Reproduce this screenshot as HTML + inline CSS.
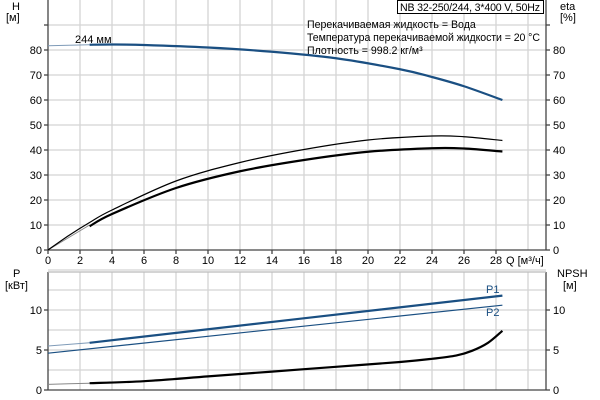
<!DOCTYPE html>
<html><head><meta charset="utf-8"><style>
body{margin:0;background:#fff}
svg{display:block;font-family:"Liberation Sans",sans-serif;font-size:11px}
.sm{font-size:10.6px}
</style></head><body>
<svg id="s" width="600" height="400" viewBox="0 0 600 400" xmlns="http://www.w3.org/2000/svg">
<g id="grid" stroke="#d4d4d4" stroke-width="1.3"></g>
<g id="ax" stroke="#444" stroke-width="1.3"></g>
<g id="cv" fill="none"></g>
<g id="tx" fill="#000"></g>
<rect x="397.5" y="0.5" width="146" height="13" fill="#fff" stroke="#000"/>
<text class="sm" x="400" y="11" textLength="140">NB 32-250/244, 3*400 V, 50Hz</text>
<text class="sm" x="307" y="28">Перекачиваемая жидкость = Вода</text>
<text class="sm" x="307" y="41" textLength="233">Температура перекачиваемой жидкости = 20 °C</text>
<text class="sm" x="307" y="54">Плотность = 998.2 кг/м³</text>
<text x="75" y="43">244 мм</text>
<text x="12" y="10">H</text><text x="6" y="21">[м]</text>
<text x="560" y="10">eta</text><text x="560" y="21">[%]</text>
<text x="506" y="264">Q [м³/ч]</text>
<text x="13" y="277">P</text><text x="5" y="289">[кВт]</text>
<text x="557" y="277">NPSH</text><text x="563" y="289">[м]</text>
<text x="486" y="293" fill="#1a4f82">P1</text>
<text x="486" y="316" fill="#1a4f82">P2</text>
</svg>
<script>
const NS="http://www.w3.org/2000/svg";
const g=id=>document.getElementById(id);
function el(p,t,a,txt){const e=document.createElementNS(NS,t);for(const k in a)e.setAttribute(k,a[k]);if(txt!=null)e.textContent=txt;g(p).appendChild(e);}
const X=q=>48+16*q, Yt=v=>250-2.5*v, Yb=v=>390-8*v;
for(let q=2;q<=30;q+=2){el("grid","line",{x1:X(q),x2:X(q),y1:0,y2:250});el("grid","line",{x1:X(q),x2:X(q),y1:272,y2:390});}
for(let v=10;v<=90;v+=10)el("grid","line",{x1:48,x2:546,y1:Yt(v),y2:Yt(v)});
for(let v=2.5;v<=15;v+=2.5)el("grid","line",{x1:48,x2:546,y1:Yb(v),y2:Yb(v)});
el("ax","line",{x1:48,x2:48,y1:0,y2:250});el("ax","line",{x1:546,x2:546,y1:0,y2:250});el("ax","line",{x1:48,x2:546,y1:250,y2:250});
el("ax","line",{x1:48,x2:48,y1:272,y2:390});el("ax","line",{x1:546,x2:546,y1:272,y2:390});el("ax","line",{x1:48,x2:546,y1:390,y2:390});el("ax","line",{x1:48,x2:546,y1:272,y2:272,stroke:"#bbb"});
for(let v=0;v<=90;v+=10){el("ax","line",{x1:44,x2:48,y1:Yt(v),y2:Yt(v)});el("ax","line",{x1:546,x2:550,y1:Yt(v),y2:Yt(v)});
 if(v<90){el("tx","text",{x:42,y:Yt(v)+4,"text-anchor":"end"},v);el("tx","text",{x:553,y:Yt(v)+4},v);}}
for(let q=0;q<=28;q+=2){el("ax","line",{x1:X(q),x2:X(q),y1:250,y2:254});el("tx","text",{x:X(q),y:264,"text-anchor":"middle"},q);}
for(let v=0;v<=10;v+=5){el("ax","line",{x1:44,x2:48,y1:Yb(v),y2:Yb(v)});el("ax","line",{x1:546,x2:550,y1:Yb(v),y2:Yb(v)});
 el("tx","text",{x:42,y:Yb(v)+4,"text-anchor":"end"},v);el("tx","text",{x:553,y:Yb(v)+4},v);}
function path(pts,Y){const n=pts.length;const P=pts.map(p=>[X(p[0]),Y(p[1])]);
 let d="M"+P[0][0]+","+P[0][1];
 for(let i=0;i<n-1;i++){const p0=P[Math.max(i-1,0)],p1=P[i],p2=P[i+1],p3=P[Math.min(i+2,n-1)];
  d+=` C${p1[0]+(p2[0]-p0[0])/6},${p1[1]+(p2[1]-p0[1])/6} ${p2[0]-(p3[0]-p1[0])/6},${p2[1]-(p3[1]-p1[1])/6} ${p2[0]},${p2[1]}`;}
 return d;}
function curve(pts,Y,c,w){el("cv","path",{d:path(pts,Y),stroke:c,"stroke-width":w});}
const B="#1a4f82";
curve([[0,81.7],[2.6,82.1]],Yt,"#7f9bb8",1);
curve([[2.6,82.1],[4,82.2],[6,82],[10,81],[14,79.3],[18,76.7],[22,72.3],[24,69.2],[26,65.5],[28.4,60]],Yt,B,2.2);
curve([[0,0],[1.3,5],[2.6,10]],Yt,"#888",1);
curve([[2.6,9.5],[4,14.4],[8,24.8],[12,31.5],[16,36],[20,39.3],[24,40.7],[26,40.6],[28.4,39.4]],Yt,"#000",2.2);
curve([[0,0],[1.3,5.8],[2.6,11],[4,16],[8,27.6],[12,35],[16,40.2],[20,44],[24,45.6],[26,45.3],[28.4,43.8]],Yt,"#000",1.2);
curve([[0,5.5],[2.6,5.9]],Yb,"#7f9bb8",1);
curve([[2.6,5.9],[28.4,11.8]],Yb,B,2.2);
curve([[0,4.6],[28.4,10.6]],Yb,B,1.2);
curve([[0,0.7],[2.6,0.85]],Yb,"#888",1);
curve([[2.6,0.85],[6,1.1],[10,1.7],[14,2.3],[18,2.9],[22,3.5],[24,3.9],[25.5,4.3],[26.5,4.9],[27.5,5.9],[28.4,7.4]],Yb,"#000",2.2);
</script>
</body></html>
